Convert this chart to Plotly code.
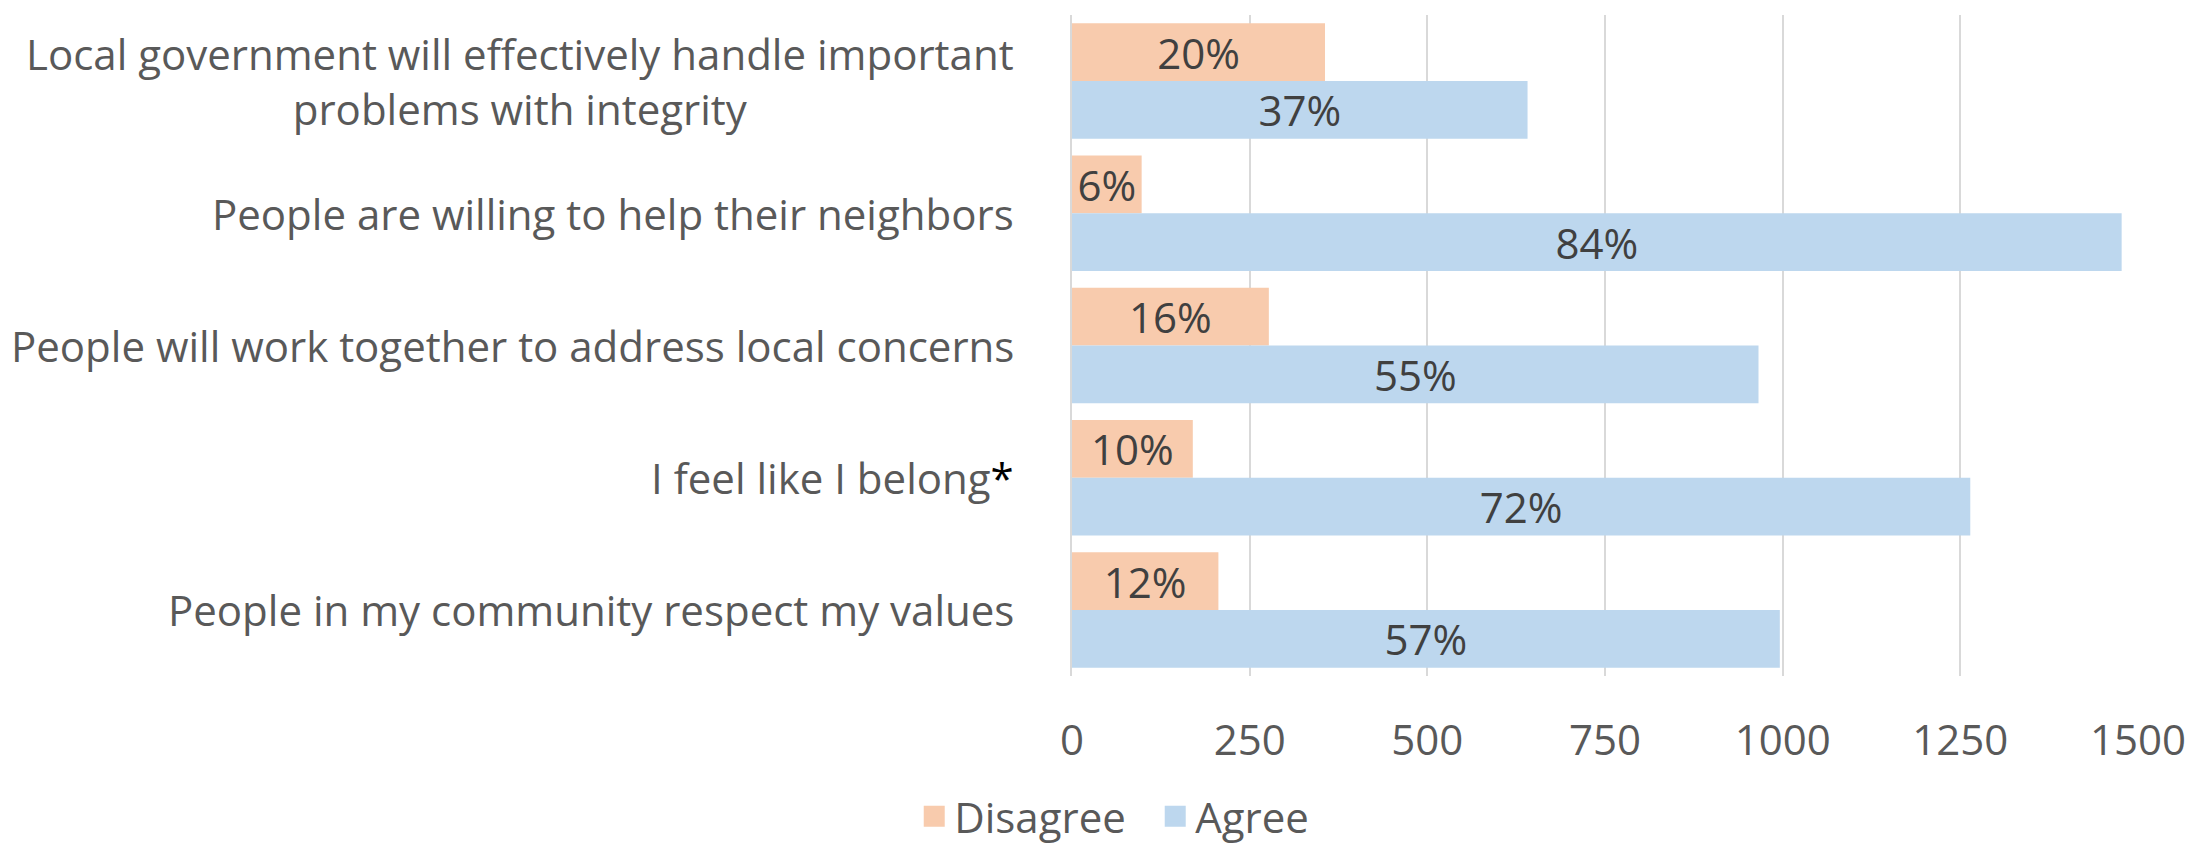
import plotly.graph_objects as go

categories = [
    "Local government will effectively handle important<br>problems with integrity",
    "People are willing to help their neighbors",
    "People will work together to address local concerns",
    "I feel like I belong<span style='color:#000000'>*</span>",
    "People in my community respect my values",
]
cat_keys = ["c1", "c2", "c3", "c4", "c5"]
disagree_counts = [356, 98, 277, 170, 206]
agree_counts = [641, 1477, 966, 1264, 996]
disagree_pct = ["20%", "6%", "16%", "10%", "12%"]
agree_pct = ["37%", "84%", "55%", "72%", "57%"]
x_ticks = [0, 250, 500, 750, 1000, 1250, 1500]

FONT = "'Open Sans', sans-serif"
TXT = "#595959"
C_DIS = "#F8CBAD"
C_AGR = "#BDD7EE"
SIZE = 42

fig = go.Figure()
for name, vals, pcts, col in [("Disagree", disagree_counts, disagree_pct, C_DIS),
                              ("Agree", agree_counts, agree_pct, C_AGR)]:
    fig.add_trace(go.Bar(
        name=name, y=cat_keys, x=vals, orientation="h", showlegend=False,
        marker=dict(color=col, line=dict(width=0)),
        text=pcts, textposition="inside", insidetextanchor="middle",
        constraintext="none", textangle=0,
        textfont=dict(family=FONT, size=SIZE, color="#404040"),
    ))
# legend entries (square swatches)
for name, col in [("Disagree", C_DIS), ("Agree", C_AGR)]:
    fig.add_trace(go.Scatter(
        name=name, x=[None], y=[None], mode="markers", showlegend=True,
        marker=dict(symbol="square", size=16, color=col, line=dict(width=5, color=col)),
    ))

for key, label in zip(cat_keys, categories):
    fig.add_annotation(
        x=-0.0525, xref="paper", y=key, yref="y", text=label,
        showarrow=False, xanchor="right", yanchor="middle", align="center",
        font=dict(family=FONT, size=SIZE, color=TXT),
    )

fig.update_layout(
    width=2203, height=849,
    margin=dict(l=1064, r=73, t=7, b=167),
    paper_bgcolor="white", plot_bgcolor="white",
    barmode="group", bargap=0.126, bargroupgap=0,
    font=dict(family=FONT, color=TXT),
    showlegend=True,
    legend=dict(
        orientation="h", x=-0.148, xanchor="left", y=-0.2126, yanchor="middle",
        font=dict(family=FONT, size=SIZE, color=TXT), traceorder="normal",
        itemwidth=30, itemsizing="trace", entrywidthmode="pixels", entrywidth=196,
        bgcolor="rgba(0,0,0,0)",
    ),
    xaxis=dict(
        range=[0, 1500], tickvals=x_ticks, ticktext=[str(v) for v in x_ticks],
        showgrid=True, gridcolor="#D9D9D9", gridwidth=2, zeroline=False,
        showline=False, ticks="", ticklabelstandoff=36,
        tickfont=dict(family=FONT, size=SIZE, color=TXT),
    ),
    yaxis=dict(
        autorange="reversed", showticklabels=False, showgrid=False,
        showline=True, linecolor="#D9D9D9", linewidth=2, zeroline=False,
    ),
)

fig.write_html("out.html")
